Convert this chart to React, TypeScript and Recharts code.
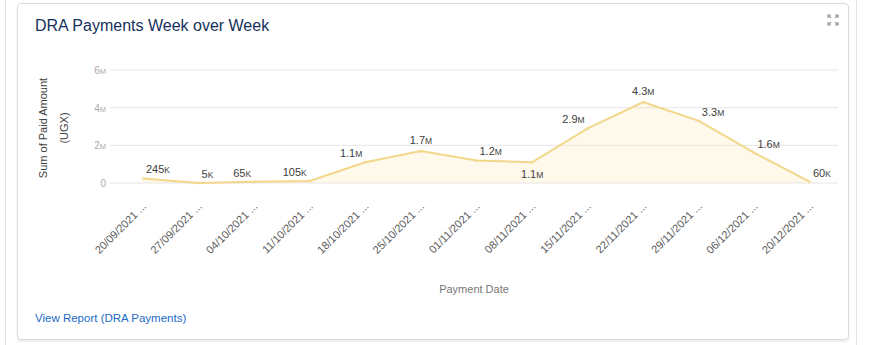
import React from 'react';
import { AreaChart, Area, XAxis, YAxis, CartesianGrid, LabelList, Label } from 'recharts';

const WEEKS = ['20/09/2021', '27/09/2021', '04/10/2021', '11/10/2021', '18/10/2021', '25/10/2021', '01/11/2021', '08/11/2021', '15/11/2021', '22/11/2021', '29/11/2021', '06/12/2021', '20/12/2021'];
const PAID = [245000, 5000, 65000, 105000, 1100000, 1700000, 1200000, 1100000, 2900000, 4300000, 3300000, 1600000, 60000];
const Y_TICKS = [0, 2000000, 4000000, 6000000];

const data = WEEKS.map((week, i) => ({ week, paid: PAID[i] }));

const FONT = '"Liberation Sans", Arial, sans-serif';
const LINE = '#f2d68a';

// 1100000 -> ['1.1', 'M'], 245000 -> ['245', 'K']
function shortNum(v: number): [string, string] {
  if (v >= 1e6) return [(v / 1e6).toFixed(1).replace(/\.0$/, ''), 'M'];
  if (v >= 1e3) return [String(Math.round(v / 1e3)), 'K'];
  return [String(v), ''];
}

// where a point label goes, judged from its neighbours
function placement(i: number) {
  const v = PAID[i], prev = PAID[i - 1], next = PAID[i + 1];
  if (prev === undefined) return next < v ? 'right' : 'left';
  if (next === undefined) return prev > v ? 'right' : 'left';
  if (v >= prev && v >= next) return 'above';
  if (v <= prev && v <= next) return v < 100000 ? 'right' : 'below';
  return next > prev ? 'left' : 'right';
}

const PointLabel = (props: any) => {
  const { x, y, value, index } = props;
  const [n, u] = shortNum(value);
  const p = placement(index);
  let tx = x, ty = y - 5, anchor: 'start' | 'middle' | 'end' = 'middle';
  if (p === 'right') { tx = x + 3; anchor = 'start'; }
  if (p === 'left') { tx = x - 3; anchor = 'end'; }
  if (p === 'above') { ty = y - 7; }
  if (p === 'below') { ty = y + 16; }
  return (
    <text x={tx} y={ty} textAnchor={anchor} fontSize={11} fill="#3e3e3c" fontFamily={FONT}>
      {n}<tspan fontSize={8.5}>{u}</tspan>
    </text>
  );
};

const YTick = (props: any) => {
  const { x, y, payload } = props;
  const [n, u] = shortNum(payload.value);
  return (
    <text x={x} y={y} dy={4} textAnchor="end" fontSize={10} fill="#ababab" fontFamily={FONT}>
      {n}<tspan fontSize={7.5}>{u}</tspan>
    </text>
  );
};

const XTick = (props: any) => {
  const { x, y, payload } = props;
  return (
    <text x={x + 4} y={y + 22} textAnchor="end" transform={`rotate(-45 ${x + 4} ${y + 22})`} fontSize={11} fill="#5a5a5a" fontFamily={FONT}>
      {payload.value} ...
    </text>
  );
};

const YTitle = () => {
  const cy = 128;
  return (
    <g fontFamily={FONT} fontSize={11} fill="#3e3e3c" textAnchor="middle">
      <text x={47} y={cy} transform={`rotate(-90 47 ${cy})`}>Sum of Paid Amount</text>
      <text x={68} y={cy} transform={`rotate(-90 68 ${cy})`}>(UGX)</text>
    </g>
  );
};

const ExpandIcon = () => (
  <svg width={12} height={12} viewBox="0 0 12 12" style={{ position: 'absolute', left: 827, top: 14 }}>
    <g stroke="#9a9a9a" strokeWidth={1.2} fill="none">
      <path d="M1 4 L1 1 L4 1 M1 1 L4 4" />
      <path d="M8 1 L11 1 L11 4 M11 1 L8 4" />
      <path d="M1 8 L1 11 L4 11 M1 11 L4 8" />
      <path d="M11 8 L11 11 L8 11 M11 11 L8 8" />
    </g>
  </svg>
);

export default function App() {
  return (
    <div style={{ position: 'relative', width: 872, height: 345, background: '#fff', overflow: 'hidden', fontFamily: FONT }}>
      <style>{'body{margin:0}'}</style>
      <div style={{ position: 'absolute', left: 0, top: 0, width: 5, height: 345, borderRight: '1px solid #e2e2e2' }} />
      <div style={{ position: 'absolute', left: 856, top: 0, width: 16, height: 345, borderLeft: '1px solid #e2e2e2' }} />
      <div style={{
        position: 'absolute', left: 17, top: 3, width: 830, height: 335,
        border: '1px solid #dddbda', borderRadius: 4, boxShadow: '0 2px 2px rgba(0,0,0,0.08)', background: '#fff',
      }} />
      <div style={{ position: 'absolute', left: 35, top: 17, fontSize: 16, color: '#16325c' }}>DRA Payments Week over Week</div>
      <ExpandIcon />
      <div style={{ position: 'absolute', left: 0, top: 0 }}>
        <AreaChart width={872} height={345} data={data} margin={{ top: 70, right: 34, bottom: 42, left: 0 }}>
          <CartesianGrid vertical={false} stroke="#e6e6e6" />
          <XAxis dataKey="week" interval={0} axisLine={false} tickLine={false} tickSize={0} height={120}
            padding={{ left: 33, right: 28 }} tick={<XTick />}>
            <Label value="Payment Date" position="insideBottom" offset={10} fontSize={11} fill="#777" fontFamily={FONT} />
          </XAxis>
          <YAxis width={110} domain={[0, 6000000]} ticks={Y_TICKS} axisLine={false} tickLine={false} tickSize={0}
            tickMargin={4} tick={<YTick />} label={<YTitle />} />
          <Area type="linear" dataKey="paid" stroke={LINE} strokeWidth={2} fill="#f7dc90" fillOpacity={0.18}
            dot={{ r: 2.5, fill: LINE, stroke: LINE, strokeWidth: 0 }} activeDot={false} isAnimationActive={false}>
            <LabelList dataKey="paid" content={<PointLabel />} />
          </Area>
        </AreaChart>
      </div>
      <div style={{ position: 'absolute', left: 35, top: 312, fontSize: 11.5, color: '#1b6ac9' }}>View Report (DRA Payments)</div>
    </div>
  );
}
